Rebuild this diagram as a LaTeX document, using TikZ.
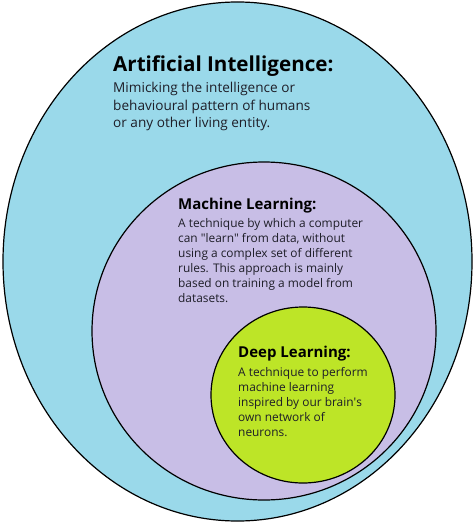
\documentclass[tikz,border=0pt]{standalone}
\usepackage{fontspec}
\setmainfont{Open Sans}
\usetikzlibrary{shapes.geometric}
\definecolor{aiblue}{HTML}{9AD9EA}
\definecolor{mlpurple}{HTML}{C8BEE6}
\definecolor{dlgreen}{HTML}{BDE527}
\definecolor{txt}{HTML}{1E1E28}
\tikzset{
  region/.style={ellipse, draw=black, line width=1.2pt, inner sep=0pt},
  ttl/.style={anchor=base west, inner sep=0pt, text=black, font=\bfseries},
  body/.style={anchor=base west, inner sep=0pt, align=left, text=txt}
}
\begin{document}
\begin{tikzpicture}[x=1pt,y=-1pt]
\useasboundingbox (0,0) rectangle (474,524);
\node[region, fill=aiblue, minimum width=469pt, minimum height=519pt] (ai) at (237.5,261.5) {};
\node[region, fill=mlpurple, minimum width=344pt, minimum height=338pt] (ml) at (264,331) {};
\node[region, fill=dlgreen, minimum width=184pt, minimum height=176pt] (dl) at (303,395) {};

% multi-line nodes: base anchor = last line's baseline
\node[ttl, font=\bfseries\fontsize{20.6}{24}\selectfont] (aititle) at (113,72) {Artificial Intelligence:};
\node[body, font=\fontsize{13.6}{17}\selectfont] (aitext) at (113,127) {Mimicking the intelligence or\\behavioural pattern of humans\\or any other living entity.};

\node[ttl, font=\bfseries\fontsize{15}{18}\selectfont] (mltitle) at (178,209) {Machine Learning:};
\node[body, font=\fontsize{11.9}{15}\selectfont] (mltext) at (178,302) {A technique by which a computer\\can \textquotedbl learn\textquotedbl{} from data, without\\using a complex set of different\\rules. This approach is mainly\\based on training a model from\\datasets.};

\node[ttl, font=\bfseries\fontsize{15}{18}\selectfont] (dltitle) at (238,357) {Deep Learning:};
\node[body, font=\fontsize{11.9}{15}\selectfont] (dltext) at (238,436) {A technique to perform\\machine learning\\inspired by our brain\textquotesingle s\\own network of\\neurons.};
\end{tikzpicture}
\end{document}
